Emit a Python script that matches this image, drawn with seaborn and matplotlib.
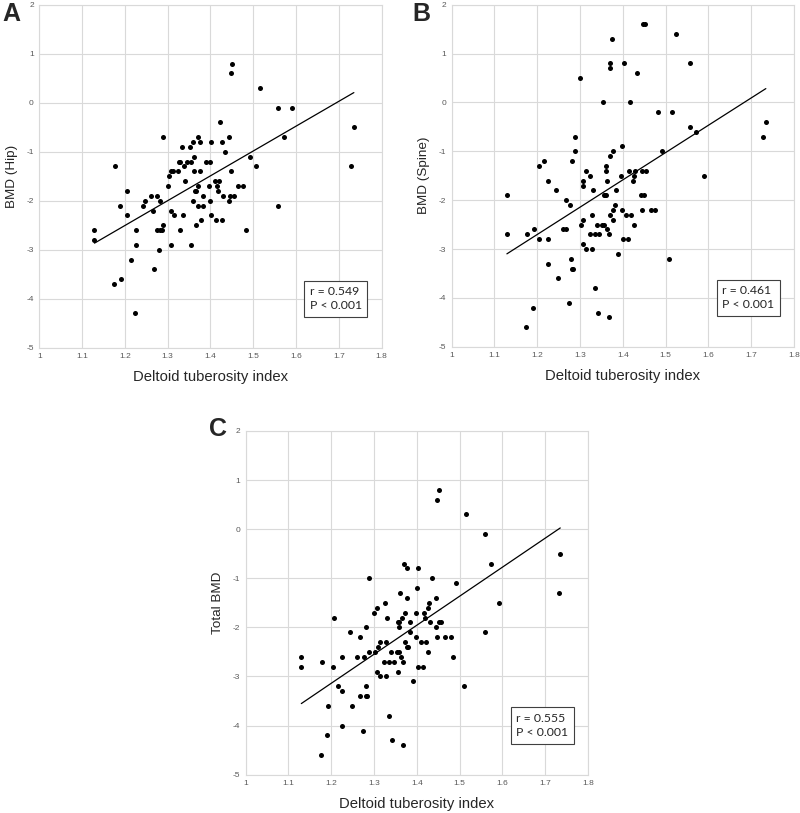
"""
Deltoid tuberosity index vs BMD: three scatter panels with linear fit.
"""

import matplotlib
matplotlib.use("Agg")
import matplotlib.pyplot as plt
import numpy as np
import seaborn as sns


# ── Panel A: hip ──
x_hip = [1.129, 1.129, 1.177, 1.174, 1.188, 1.192, 1.205, 1.204, 1.215, 1.224,
         1.225, 1.225, 1.243, 1.248, 1.260, 1.266, 1.267, 1.275, 1.276, 1.281,
         1.280, 1.282, 1.286, 1.288, 1.289, 1.301, 1.303, 1.307, 1.307, 1.307,
         1.312, 1.314, 1.323, 1.326, 1.329, 1.329, 1.333, 1.335, 1.339, 1.341,
         1.346, 1.352, 1.354, 1.355, 1.358, 1.358, 1.361, 1.362, 1.363, 1.366,
         1.367, 1.371, 1.371, 1.371, 1.375, 1.376, 1.378, 1.382, 1.383, 1.389,
         1.396, 1.398, 1.400, 1.401, 1.401, 1.411, 1.413, 1.415, 1.417, 1.420,
         1.422, 1.426, 1.428, 1.430, 1.435, 1.444, 1.444, 1.446, 1.447, 1.449,
         1.451, 1.456, 1.465, 1.477, 1.482, 1.492, 1.507, 1.515, 1.557, 1.558,
         1.572, 1.591, 1.729, 1.735]
bmd_hip = [-2.6, -2.8, -1.3, -3.7, -2.1, -3.6, -1.8, -2.3, -3.2, -4.3,
           -2.6, -2.9, -2.1, -2.0, -1.9, -2.2, -3.4, -1.9, -2.6, -2.6,
           -3.0, -2.0, -2.6, -2.5, -0.7, -1.7, -1.5, -1.4, -2.2, -2.9,
           -1.4, -2.3, -1.4, -1.2, -2.6, -1.2, -0.9, -2.3, -1.3, -1.6,
           -1.2, -0.9, -2.9, -1.2, -2.0, -0.8, -1.4, -1.1, -1.8, -1.8,
           -2.5, -1.7, -0.7, -2.1, -0.8, -1.4, -2.4, -2.1, -1.9, -1.2,
           -1.7, -2.0, -1.2, -0.8, -2.3, -1.6, -2.4, -1.7, -1.8, -1.6,
           -0.4, -2.4, -0.8, -1.9, -1.0, -0.7, -2.0, -1.9, 0.6, -1.4,
           0.8, -1.9, -1.7, -1.7, -2.6, -1.1, -1.3, 0.3, -0.1, -2.1,
           -0.7, -0.1, -1.3, -0.5]

# ── Panel B: spine ──
x_spine = [1.129, 1.129, 1.174, 1.177, 1.189, 1.192, 1.205, 1.205, 1.216, 1.225,
           1.224, 1.226, 1.243, 1.248, 1.261, 1.266, 1.268, 1.275, 1.277, 1.279,
           1.280, 1.282, 1.284, 1.287, 1.289, 1.300, 1.302, 1.306, 1.306, 1.307,
           1.307, 1.314, 1.314, 1.323, 1.324, 1.327, 1.328, 1.331, 1.335, 1.335,
           1.340, 1.341, 1.345, 1.351, 1.353, 1.355, 1.357, 1.359, 1.360, 1.360,
           1.361, 1.362, 1.363, 1.367, 1.367, 1.370, 1.370, 1.370, 1.370, 1.375,
           1.376, 1.376, 1.378, 1.381, 1.383, 1.388, 1.396, 1.398, 1.399, 1.401,
           1.402, 1.408, 1.412, 1.415, 1.416, 1.418, 1.423, 1.426, 1.427, 1.429,
           1.434, 1.443, 1.444, 1.444, 1.447, 1.451, 1.450, 1.454, 1.465, 1.476,
           1.481, 1.491, 1.507, 1.514, 1.525, 1.556, 1.557, 1.571, 1.589, 1.728,
           1.734]
bmd_spine = [-1.9, -2.7, -4.6, -2.7, -4.2, -2.6, -1.3, -2.8, -1.2, -1.6,
             -2.8, -3.3, -1.8, -3.6, -2.6, -2.0, -2.6, -4.1, -2.1, -3.2,
             -3.4, -1.2, -3.4, -0.7, -1.0, 0.5, -2.5, -1.6, -1.7, -2.9,
             -2.4, -1.4, -3.0, -2.7, -1.5, -2.3, -3.0, -1.8, -2.7, -3.8,
             -2.5, -4.3, -2.7, -2.5, 0.0, -1.9, -2.5, -1.9, -1.3, -1.4,
             -1.9, -2.6, -1.6, -2.7, -4.4, -1.1, -2.3, 0.8, 0.7, 1.3,
             -1.0, -2.4, -2.2, -2.1, -1.8, -3.1, -1.5, -2.2, -0.9, -2.8,
             0.8, -2.3, -2.8, -1.4, 0.0, -2.3, -1.6, -2.5, -1.5, -1.4,
             0.6, -1.9, -2.2, -1.4, 1.6, 1.6, -1.9, -1.4, -2.2, -2.2,
             -0.2, -1.0, -3.2, -0.2, 1.4, 0.8, -0.5, -0.6, -1.5, -0.7,
             -0.4]

# ── Panel C: total ──
x_total = [1.130, 1.130, 1.175, 1.178, 1.189, 1.193, 1.205, 1.206, 1.216, 1.224,
           1.226, 1.226, 1.243, 1.249, 1.261, 1.266, 1.268, 1.275, 1.277, 1.280,
           1.280, 1.282, 1.284, 1.288, 1.289, 1.300, 1.303, 1.307, 1.308, 1.307,
           1.315, 1.315, 1.323, 1.325, 1.327, 1.329, 1.331, 1.335, 1.336, 1.340,
           1.342, 1.346, 1.353, 1.355, 1.356, 1.359, 1.359, 1.359, 1.360, 1.363,
           1.365, 1.367, 1.367, 1.371, 1.372, 1.372, 1.377, 1.377, 1.378, 1.380,
           1.383, 1.384, 1.390, 1.398, 1.399, 1.401, 1.403, 1.402, 1.410, 1.414,
           1.417, 1.419, 1.421, 1.425, 1.427, 1.429, 1.431, 1.436, 1.445, 1.445,
           1.447, 1.448, 1.451, 1.451, 1.456, 1.466, 1.479, 1.484, 1.492, 1.509,
           1.514, 1.558, 1.559, 1.574, 1.591, 1.731, 1.735]
bmd_total = [-2.6, -2.8, -4.6, -2.7, -4.2, -3.6, -2.8, -1.8, -3.2, -4.0,
             -3.3, -2.6, -2.1, -3.6, -2.6, -2.2, -3.4, -4.1, -2.6, -3.2,
             -3.4, -2.0, -3.4, -2.5, -1.0, -1.7, -2.5, -1.6, -2.4, -2.9,
             -2.3, -3.0, -2.7, -1.5, -2.3, -3.0, -1.8, -2.7, -3.8, -2.5,
             -4.3, -2.7, -2.5, -2.9, -1.9, -2.5, -2.0, -1.9, -1.3, -2.6,
             -1.8, -2.7, -4.4, -0.7, -2.3, -1.7, -0.8, -1.4, -2.4, -2.4,
             -2.1, -1.9, -3.1, -1.7, -2.2, -1.2, -0.8, -2.8, -2.3, -2.8,
             -1.7, -1.8, -2.3, -1.6, -2.5, -1.5, -1.9, -1.0, -1.4, -2.0,
             -2.2, 0.6, -1.9, 0.8, -1.9, -2.2, -2.2, -2.6, -1.1, -3.2,
             0.3, -0.1, -2.1, -0.7, -1.5, -1.3, -0.5]

# linear fits as printed in the figure (slope, intercept)
fit_hip = (5.07, -8.59)
fit_spine = (5.59, -9.41)
fit_total = (5.91, -10.23)

panel_letters = ["A", "B", "C"]
y_labels = ["BMD (Hip)", "BMD (Spine)", "Total BMD"]
stats_text = ["r = 0.549\nP < 0.001", "r = 0.461\nP < 0.001", "r = 0.555\nP < 0.001"]
x_ticks = [1, 1.1, 1.2, 1.3, 1.4, 1.5, 1.6, 1.7, 1.8]
x_tick_labels = ["1", "1.1", "1.2", "1.3", "1.4", "1.5", "1.6", "1.7", "1.8"]
y_ticks = [-5, -4, -3, -2, -1, 0, 1, 2]

GRID = "#d9d9d9"
TICK = "#595959"


def draw_panel(ax, x, y, fit, ylabel, stats):
    sns.scatterplot(x=x, y=y, ax=ax, s=13, color="black", linewidth=0, alpha=1)

    # trend line spans the observed x range
    xs = np.array([x.min(), x.max()])
    sns.lineplot(x=xs, y=fit[0] * xs + fit[1], ax=ax, color="black", lw=0.9)

    ax.set_xlim(1, 1.8)
    ax.set_ylim(-5, 2)
    ax.set_xticks(x_ticks)
    ax.set_xticklabels(x_tick_labels)
    ax.set_yticks(y_ticks)
    ax.set_yticklabels([str(v) for v in y_ticks])
    ax.tick_params(length=0, labelsize=6, labelcolor=TICK, pad=4)
    ax.grid(True, color=GRID, lw=0.8)
    ax.set_axisbelow(True)
    for sp in ax.spines.values():
        sp.set_color(GRID)
        sp.set_linewidth(0.8)
    ax.set_xlabel("Deltoid tuberosity index", fontsize=10.7, labelpad=7)
    ax.set_ylabel(ylabel, fontsize=9.7, labelpad=6)
    ax.text(0.79, 0.143, stats, transform=ax.transAxes, ha="left", va="center",
            fontsize=8.8, family="Lato", linespacing=1.35,
            bbox=dict(boxstyle="square,pad=0.45", fc="white", ec="#404040", lw=0.8))


def main():
    sns.set_style("white")
    plt.rcParams["font.family"] = ["Liberation Sans", "DejaVu Sans"]

    fig = plt.figure(figsize=(8.0, 8.13), dpi=100)

    # axes boxes in figure fractions (left, bottom, width, height)
    boxes = [
        (0.0491, 0.5723, 0.428, 0.4219),
        (0.5646, 0.5735, 0.428, 0.4207),
        (0.3071, 0.0471, 0.428, 0.4229),
    ]
    letter_pos = [(0.003, 0.998), (0.516, 0.998), (0.261, 0.487)]
    data = [(x_hip, bmd_hip, fit_hip), (x_spine, bmd_spine, fit_spine),
            (x_total, bmd_total, fit_total)]

    for i, box in enumerate(boxes):
        ax = fig.add_axes(box)
        xv, yv, fit = data[i]
        draw_panel(ax, np.array(xv), np.array(yv), fit, y_labels[i], stats_text[i])
        fig.text(letter_pos[i][0], letter_pos[i][1], panel_letters[i],
                 fontsize=18, fontweight="bold", ha="left", va="top")

    fig.savefig("out.png", dpi=100)
    plt.close(fig)


if __name__ == "__main__":
    main()
